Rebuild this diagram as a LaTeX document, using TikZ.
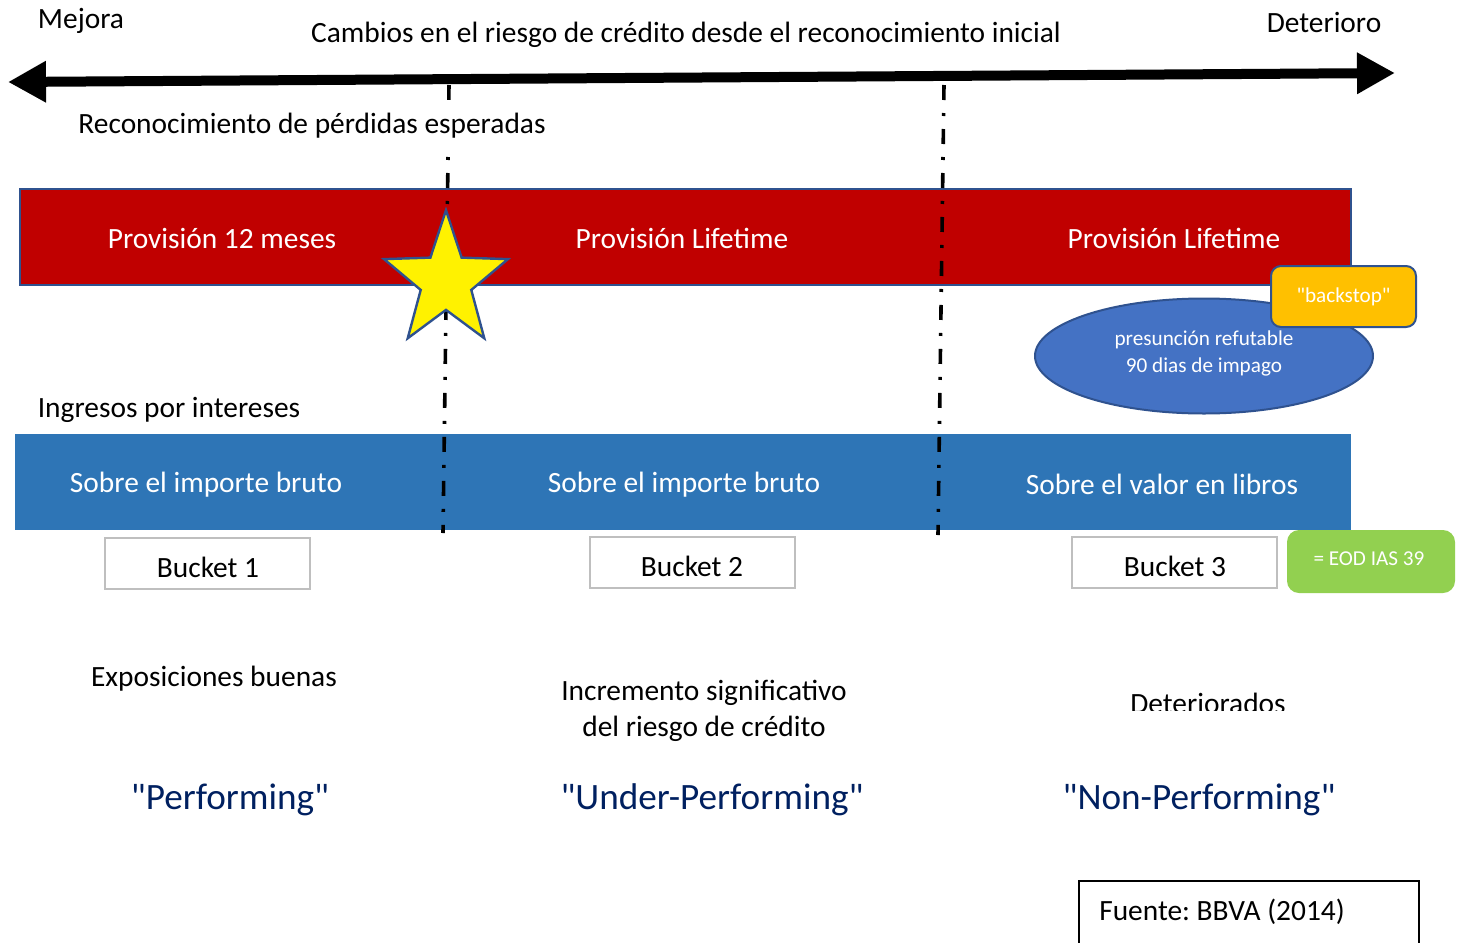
\documentclass[tikz,border=0pt]{standalone}
\usepackage{fontspec}
\setmainfont{Carlito}[Ligatures=TeXOff]
\usetikzlibrary{positioning, shapes.geometric, arrows.meta}
\frenchspacing

\definecolor{rojoprov}{HTML}{C00000}
\definecolor{azulbanda}{HTML}{2E75B6}
\definecolor{azulelipse}{HTML}{4472C4}
\definecolor{bordeazul}{HTML}{2F528F}
\definecolor{naranja}{HTML}{FFC000}
\definecolor{verde}{HTML}{92D050}
\definecolor{marino}{HTML}{002060}
\definecolor{grisborde}{HTML}{BFBFBF}

\begin{document}
\begin{tikzpicture}[x=0.5pt, y=-0.5pt,
  every node/.style={font=\fontsize{14.7}{18}\selectfont, inner sep=0pt},
  etiqueta/.style={align=center},
  blanco/.style={text=white, align=center},
  pequeno/.style={font=\fontsize{10.6}{13.5}\selectfont},
  grande/.style={text=marino, font=\fontsize{18.6}{22}\selectfont},
  banda/.style={rectangle, minimum width=665.5pt, minimum height=48pt},
  bucketbox/.style={rectangle, draw=grisborde, line width=1pt, fill=white, minimum width=102.5pt, minimum height=25.5pt},
  divisor/.style={line width=1.8pt, dash pattern=on 7.5pt off 6.5pt on 1.5pt off 6.5pt},
  flecha/.style={line width=5pt, {Triangle[length=19pt, width=19.5pt]}-{Triangle[length=19pt, width=19.5pt]}}]
\useasboundingbox (0,0) rectangle (1464,943);
\clip (0,0) rectangle (1464,943);

% Eje del riesgo de credito
\node[etiqueta] (mejora) at (81,21) {Mejora};
\node[etiqueta] (cambios) at (686,35) {Cambios en el riesgo de crédito desde el reconocimiento inicial};
\node[etiqueta] (deterioro) at (1324,22) {Deterioro};
\coordinate (izq) at (8,82);
\coordinate (der) at (1395,73);
\draw[flecha] (izq) -- (der);

% Provisiones
\node[banda, fill=rojoprov, draw=bordeazul, line width=1pt] (rojo) at (685.5,237) {};
\node[blanco] (prov1) at (222,238) {Provisión 12 meses};
\node[blanco] (prov2) at (682,238) {Provisión Lifetime};
\node[blanco] (prov3) at (1174,238) {Provisión Lifetime};

% Ingresos
\node[etiqueta] (ingresos) at (169,410) {Ingresos por intereses};
\node[banda, fill=azulbanda, minimum width=668pt] (azul) at (683,482) {};
\node[blanco] (bruto1) at (206,485) {Sobre el importe bruto};
\node[blanco] (bruto2) at (684,485) {Sobre el importe bruto};
\node[blanco] (libros) at (1162,484) {Sobre el valor en libros};

% Divisores
\coordinate (d1a) at (449,85);
\coordinate (d1b) at (443,533);
\coordinate (d2a) at (944,85);
\coordinate (d2b) at (938,535);
\draw[divisor] (d1a) -- (d1b);
\draw[divisor] (d2a) -- (d2b);
\node[etiqueta, fill=white, minimum width=246pt, minimum height=26pt] (reconoc) at (312,126) {Reconocimiento de pérdidas esperadas};

% Estrella y backstop
\node[star, star points=5, star point ratio=2.45, minimum size=70.8pt, fill=yellow, draw=bordeazul, line width=1.2pt, transform shape, xscale=0.92] (estrella) at (446,281) {};
\node[ellipse, fill=azulelipse, draw=bordeazul, line width=1pt, minimum width=169pt, minimum height=57.5pt] (elipse) at (1204,356) {};
\node[blanco, pequeno] (presuncion) at (1204,353) {presunción refutable\\90 dias de impago};
\node[rectangle, rounded corners=5pt, fill=naranja, draw=bordeazul, line width=1pt, minimum width=72.5pt, minimum height=30.5pt, blanco, pequeno] (backstop) at (1343.5,296.5) {"backstop"};

% Buckets
\node[bucketbox] (b1) at (207.5,563.5) {};
\node[etiqueta] (bucket1) at (208,567) {Bucket 1};
\node[bucketbox] (b2) at (692,562.5) {};
\node[etiqueta] (bucket2) at (692,566) {Bucket 2};
\node[bucketbox] (b3) at (1174.5,562.5) {};
\node[etiqueta] (bucket3) at (1175,566) {Bucket 3};
\node[rectangle, rounded corners=6pt, fill=verde, minimum width=84pt, minimum height=31.5pt] (eod) at (1371,561.5) {};
\node[blanco, pequeno] (eodt) at (1369,559) {= EOD IAS 39};

% Categorias
\node[etiqueta] (buenas) at (214,679) {Exposiciones buenas};
\node[etiqueta] (incremento) at (704,711) {Incremento significativo\\del riesgo de crédito};
\begin{scope}
  \clip (1100,680) rectangle (1320,710);
  \node[etiqueta] (deteriorados) at (1208,703) {Deteriorados};
\end{scope}
\node[grande] (perf) at (230,800) {"Performing"};
\node[grande] (under) at (712,800) {"Under-Performing"};
\node[grande] (nonperf) at (1199,800) {"Non-Performing"};

% Fuente
\node[rectangle, draw=black, line width=0.6pt, minimum width=170pt, minimum height=40pt] (marco) at (1249,921) {};
\node[etiqueta] (fuente) at (1222,912) {Fuente: BBVA (2014)};
\end{tikzpicture}
\end{document}
